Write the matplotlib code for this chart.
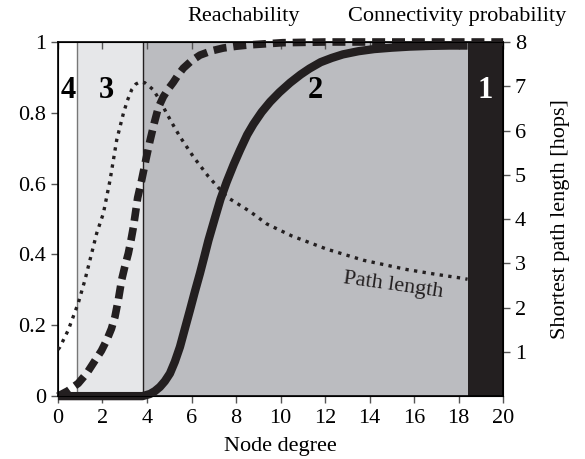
import numpy as np
import matplotlib
matplotlib.use("Agg")
import matplotlib.pyplot as plt

plt.rcParams['font.family'] = ['Liberation Serif', 'DejaVu Serif']

# connectivity probability (solid)
conn_x = [0, 3.8, 4.13, 4.35, 4.58, 4.8, 5.03, 5.25, 5.48, 5.7, 5.93, 6.15, 6.38, 6.57, 6.76, 7.06,
          7.3, 7.58, 7.9, 8.18, 8.5, 8.78, 9.15, 9.53, 9.95, 10.43, 10.9, 11.3, 11.8, 12.3, 12.8,
          13.5, 14.2, 15.0, 15.8, 16.7, 17.6, 18.4]
conn_y = [0, 0, 0.006, 0.014, 0.026, 0.042, 0.064, 0.097, 0.139, 0.19, 0.243, 0.295, 0.347, 0.393,
          0.44, 0.505, 0.556, 0.605, 0.655, 0.695, 0.738, 0.768, 0.802, 0.831, 0.858, 0.885, 0.908,
          0.925, 0.943, 0.955, 0.965, 0.974, 0.98, 0.984, 0.987, 0.989, 0.99, 0.99]

# reachability (dashed)
reach_x = [0, 0.45, 0.91, 1.3, 1.66, 1.95, 2.19, 2.4, 2.56, 2.72, 2.86, 3.0, 3.16, 3.28, 3.39,
           3.58, 3.76, 3.95, 4.13, 4.32, 4.51, 4.73, 4.95, 5.18, 5.4, 5.63, 6.0, 6.38, 6.9,
           7.43, 8.0, 8.63, 10.1, 12.0, 20.0]
reach_y = [0, 0.015, 0.036, 0.065, 0.1, 0.128, 0.158, 0.19, 0.224, 0.275, 0.328, 0.365, 0.403,
           0.44, 0.478, 0.56, 0.61, 0.668, 0.72, 0.77, 0.815, 0.845, 0.867, 0.886, 0.907, 0.926,
           0.947, 0.963, 0.975, 0.983, 0.988, 0.992, 0.998, 1.0, 1.0]

# shortest path length in hops (dotted, right axis)
path_x = [0, 0.09, 0.46, 0.91, 1.21, 1.51, 1.74, 2.04, 2.34, 2.64, 2.94, 3.12, 3.31, 3.5, 3.69,
          3.9, 4.1, 4.28, 4.58, 4.88, 5.18, 5.48, 6.08, 6.76, 7.58, 8.63, 9.38, 10.5, 12.08,
          13.72, 15.67, 17.0, 18.2, 18.4]
path_y = [1.05, 1.11, 1.49, 2.1, 2.62, 3.22, 3.68, 4.13, 4.88, 5.79, 6.39, 6.68, 6.92, 7.05, 7.1,
          7.08, 7.0, 6.92, 6.68, 6.39, 6.12, 5.86, 5.41, 4.96, 4.5, 4.17, 3.89, 3.62, 3.32,
          3.07, 2.86, 2.75, 2.66, 2.64]

# regions
region_edges = [0, 0.85, 3.8, 18.4, 20]
region_colors = ['white', '#e6e7e9', '#bbbcc0', '#231f20']
region_labels = ['4', '3', '2', '1']
label_x = [0.45, 2.16, 11.57, 19.2]
label_colors = ['black', 'black', 'black', 'white']

ink = '#231f20'

fig = plt.figure(figsize=(5.85, 4.59), dpi=100)
ax = fig.add_axes([0.0991, 0.137, 0.761, 0.7715])

for i in range(4):
    ax.axvspan(region_edges[i], region_edges[i + 1], color=region_colors[i], zorder=0, lw=0)
ax.axvline(region_edges[1], color='#777777', lw=1.0, zorder=1)
ax.axvline(region_edges[2], color=ink, lw=1.0, zorder=1)

for i in range(4):
    ax.text(label_x[i], 0.862, region_labels[i], fontsize=22, fontweight='bold',
            color=label_colors[i], ha='center', va='center', zorder=5)

ax.plot(conn_x, conn_y, color=ink, lw=6, solid_capstyle='butt', solid_joinstyle='round',
        zorder=4, clip_on=False)
ax.plot(reach_x, reach_y, color=ink, lw=5.5, dashes=(1.7, 0.9), zorder=4, clip_on=False)

ax.set_xlim(0, 20)
ax.set_ylim(0, 1)
ax.set_xticks(range(0, 21, 2))
ax.set_yticks([0, 0.2, 0.4, 0.6, 0.8, 1])
ax.set_yticklabels(['0', '0.2', '0.4', '0.6', '0.8', '1'])
ax.tick_params(axis='both', labelsize=16, direction='out', length=5, width=1, color='#555555')
ax.tick_params(axis='x', top=True, pad=4)
ax.set_xlabel('Node degree', fontsize=16, labelpad=7)
for s in ax.spines.values():
    s.set_linewidth(1.2)

ax2 = ax.twinx()
ax2.plot(path_x, path_y, color=ink, lw=2.4, dashes=(1, 1.6), zorder=4)
ax2.set_ylim(0, 8)
ax2.set_yticks(range(1, 9))
ax2.tick_params(axis='y', labelsize=16, direction='out', length=5, width=1, color='#555555')
ax2.set_ylabel('Shortest path length [hops]', fontsize=16, labelpad=18)
ax2.text(15.07, 2.5, 'Path length', fontsize=16, rotation=-8, ha='center', va='center', color=ink)

# top tick marks point inward
for t in ax.xaxis.get_major_ticks():
    t.tick2line.set_marker(3)

fig.text(0.417, 0.965, 'Reachability', fontsize=16, ha='center', va='center')
fig.text(0.782, 0.965, 'Connectivity probability', fontsize=16, ha='center', va='center')

fig.savefig('out.png', dpi=100)
